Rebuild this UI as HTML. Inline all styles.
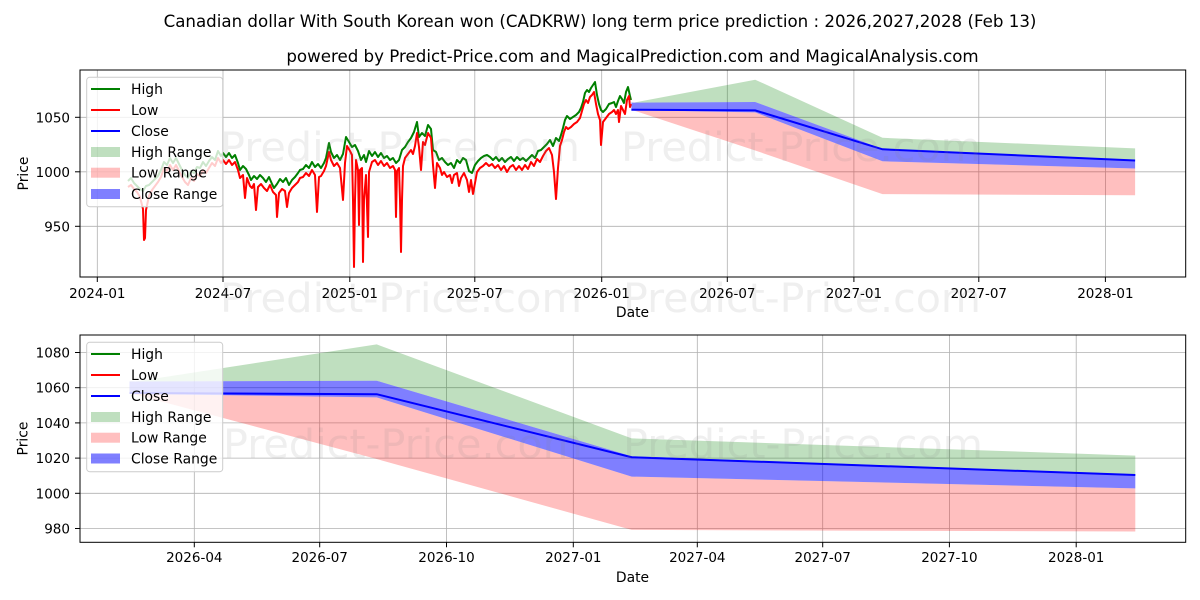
<!DOCTYPE html>
<html>
<head>
<meta charset="utf-8">
<style>
  html,body{margin:0;padding:0;background:#fff;}
  svg{display:block;font-family:"DejaVu Sans","Liberation Sans",sans-serif;}
</style>
</head>
<body>
<svg width="1200" height="600" viewBox="0 0 1200 600" xmlns="http://www.w3.org/2000/svg">
  <defs>
    <clipPath id="c1"><rect x="80" y="70" width="1105.7" height="207"/></clipPath>
    <clipPath id="c2"><rect x="80" y="335" width="1105.7" height="207.3"/></clipPath>
  </defs>
  <rect x="0" y="0" width="1200" height="600" fill="#fff"/>

  <!-- Titles -->
  <text x="600" y="27" font-size="16.67" text-anchor="middle" fill="#000">Canadian dollar With South Korean won (CADKRW) long term price prediction : 2026,2027,2028 (Feb 13)</text>
  <text x="632.5" y="62" font-size="16.67" text-anchor="middle" fill="#000">powered by Predict-Price.com and MagicalPrediction.com and MagicalAnalysis.com</text>

  <!-- ================= TOP CHART ================= -->
  <g stroke="#b0b0b0" stroke-width="0.8">
    <line x1="97.3" y1="70" x2="97.3" y2="277"/>
    <line x1="223" y1="70" x2="223" y2="277"/>
    <line x1="349.8" y1="70" x2="349.8" y2="277"/>
    <line x1="474.8" y1="70" x2="474.8" y2="277"/>
    <line x1="601.7" y1="70" x2="601.7" y2="277"/>
    <line x1="727.3" y1="70" x2="727.3" y2="277"/>
    <line x1="853.9" y1="70" x2="853.9" y2="277"/>
    <line x1="978.8" y1="70" x2="978.8" y2="277"/>
    <line x1="1105.4" y1="70" x2="1105.4" y2="277"/>
    <line x1="80" y1="117.3" x2="1185.7" y2="117.3"/>
    <line x1="80" y1="171.8" x2="1185.7" y2="171.8"/>
    <line x1="80" y1="226.3" x2="1185.7" y2="226.3"/>
  </g>

  <g clip-path="url(#c1)">
    <!-- forecast ranges -->
    <polygon fill="#008000" fill-opacity="0.25" points="631.4,103.1 755.2,79.7 882.5,137.8 1135.1,148.4 1135.1,160.0 882.5,148.9 755.2,102.0 631.4,102.6"/>
    <polygon fill="#ff0000" fill-opacity="0.25" points="631.4,110.2 755.2,112.4 882.5,161.3 1135.1,168.5 1135.1,195.3 882.5,194.1 755.2,150.5 631.4,109.7"/>
    <polygon fill="#0000ff" fill-opacity="0.5" points="631.4,102.6 755.2,102.0 882.5,148.9 1135.1,160.0 1135.1,168.5 882.5,161.3 755.2,112.4 631.4,110.2"/>

    <!-- historical high -->
    <polyline fill="none" stroke="#008000" stroke-width="2" stroke-linejoin="round" points="128,181 131,178 134,183 137,186 140,189 143,191 146,186 149,185 152,182 155,179 158,176 161,170 164,162 167,165 170,158 173,163 176,158 179,164 182,170 185,175 188,178 191,171 194,173 197,167 200,168 203,162 206,166 209,161 212,157 215,160 218,151 221,156 223,153 226,157 229,153 232,158 235,155 238,163 240,170 243,166 246,169 249,175 251,180 254,176 257,179 260,175 263,178 266,182 269,177 272,184 274,188 277,184 280,179 283,182 286,178 289,185 292,180 295,177 298,173 300,170 303,169 306,165 309,168 312,162 315,167 318,164 321,168 324,163 326,158 329,143 331,152 334,158 337,155 340,160 343,154 346,137 349,142 352,147 355,145 358,151 361,160 364,155 366,162 369,151 372,156 375,152 378,157 381,153 384,158 387,156 390,160 393,158 396,163 399,160 402,150 405,147 408,142 411,138 414,132 417,122 419,137 422,133 425,136 428,125 431,129 433,150 436,152 439,160 442,158 445,162 448,165 451,163 454,168 457,160 460,163 463,158 466,160 469,171 472,173 475,165 478,161 481,158 484,156 487,155 490,157 493,160 496,157 499,161 502,158 505,162 508,159 511,157 514,161 517,157 520,160 523,158 526,161 529,158 532,155 535,158 538,151 541,150 544,147 547,144 550,140 553,146 556,138 559,141 561,135 563,128 565,120 567,116 570,119 573,117 576,115 579,112 581,108 583,102 585,93 587,90 589,92 591,88 593,85 595,82 597,95 599,104 601,110 603,112 606,109 609,104 612,103 614,102 616,107 618,101 620,96 622,99 624,103 626,92 628,87 630,96 631,100"/>
    <!-- historical low -->
    <polyline fill="none" stroke="#ff0000" stroke-width="2" stroke-linejoin="round" points="128,187 131,185 134,189 137,192 140,197 142,205 143,209 144,240 145,238 146,210 149,196 152,190 155,186 158,182 161,177 164,168 167,171 170,165 173,170 176,165 179,171 182,177 185,182 188,185 191,178 194,181 197,174 200,176 203,170 206,173 209,168 212,163 215,166 218,158 221,163 223,160 226,164 229,160 232,165 235,162 238,170 240,178 243,175 245,198 247,178 250,186 252,188 254,184 256,210 258,187 261,184 264,188 267,191 270,185 273,192 276,195 277,217 279,193 282,189 285,191 287,207 289,193 292,188 295,185 298,182 300,178 303,177 306,173 309,176 312,170 315,175 317,212 319,177 321,176 324,171 326,166 329,152 331,160 334,166 337,163 340,168 343,200 345,163 347,146 350,151 352,155 353,200 354,267 355,200 356,160 358,170 359,225 360,170 362,168 363,262 364,200 366,175 368,237 369,172 372,162 375,160 378,165 381,161 384,166 387,163 390,168 393,166 395,170 396,217 397,171 399,168 400,200 401,252 402,200 403,166 405,158 408,154 411,150 413,154 415,146 417,133 419,147 421,170 423,142 425,145 428,133 431,138 433,165 435,188 437,163 440,168 442,175 444,172 447,177 450,175 452,183 454,175 457,173 459,186 461,178 464,173 467,180 469,192 471,180 473,194 475,183 477,172 480,168 483,166 486,163 489,166 492,164 495,168 498,165 501,170 504,166 507,172 510,167 513,165 516,170 519,166 522,170 525,165 528,169 531,162 534,166 537,159 540,162 543,156 546,151 549,148 552,155 554,172 556,199 558,168 560,146 562,140 564,132 566,127 568,129 571,127 574,124 577,122 580,118 582,111 584,104 586,100 588,103 590,97 592,95 594,92 596,104 598,114 600,120 601,145 603,122 606,118 609,114 612,112 614,110 616,114 618,110 619,122 621,106 623,110 625,114 627,100 629,96 630,107 631,104"/>
    <!-- close forecast -->
    <polyline fill="none" stroke="#0000ff" stroke-width="2" points="631.4,109.7 755.2,110.4 882.5,149.3 1135.1,160.5"/>
  </g>

  <!-- top axes frame & ticks -->
  <rect x="80" y="70" width="1105.7" height="207" fill="none" stroke="#000" stroke-width="1"/>
  <g stroke="#000" stroke-width="1">
    <line x1="97.3" y1="277" x2="97.3" y2="282"/>
    <line x1="223" y1="277" x2="223" y2="282"/>
    <line x1="349.8" y1="277" x2="349.8" y2="282"/>
    <line x1="474.8" y1="277" x2="474.8" y2="282"/>
    <line x1="601.7" y1="277" x2="601.7" y2="282"/>
    <line x1="727.3" y1="277" x2="727.3" y2="282"/>
    <line x1="853.9" y1="277" x2="853.9" y2="282"/>
    <line x1="978.8" y1="277" x2="978.8" y2="282"/>
    <line x1="1105.4" y1="277" x2="1105.4" y2="282"/>
    <line x1="75" y1="117.3" x2="80" y2="117.3"/>
    <line x1="75" y1="171.8" x2="80" y2="171.8"/>
    <line x1="75" y1="226.3" x2="80" y2="226.3"/>
  </g>
  <g font-size="13.5" fill="#000" text-anchor="middle">
    <text x="97.3" y="298">2024-01</text>
    <text x="223" y="298">2024-07</text>
    <text x="349.8" y="298">2025-01</text>
    <text x="474.8" y="298">2025-07</text>
    <text x="601.7" y="298">2026-01</text>
    <text x="727.3" y="298">2026-07</text>
    <text x="853.9" y="298">2027-01</text>
    <text x="978.8" y="298">2027-07</text>
    <text x="1105.4" y="298">2028-01</text>
  </g>
  <g font-size="13.5" fill="#000" text-anchor="end">
    <text x="70" y="122.3">1050</text>
    <text x="70" y="176.8">1000</text>
    <text x="70" y="231.3">950</text>
  </g>
  <text x="632.5" y="317" font-size="13.9" text-anchor="middle" fill="#000">Date</text>
  <text transform="translate(28,173.5) rotate(-90)" font-size="13.9" text-anchor="middle" fill="#000">Price</text>

  <!-- top legend -->
  <rect x="86.7" y="77.3" width="136" height="129.4" rx="3" fill="#fff" fill-opacity="0.8" stroke="#cccccc" stroke-width="1"/>
  <line x1="91" y1="89" x2="120" y2="89" stroke="#008000" stroke-width="2"/>
  <line x1="91" y1="110" x2="120" y2="110" stroke="#ff0000" stroke-width="2"/>
  <line x1="91" y1="131" x2="120" y2="131" stroke="#0000ff" stroke-width="2"/>
  <rect x="91" y="147" width="29" height="10" fill="#008000" fill-opacity="0.25"/>
  <rect x="91" y="167.7" width="29" height="10" fill="#ff0000" fill-opacity="0.25"/>
  <rect x="91" y="189" width="29" height="10" fill="#0000ff" fill-opacity="0.5"/>
  <g font-size="13.9" fill="#000">
    <text x="131" y="94">High</text>
    <text x="131" y="115">Low</text>
    <text x="131" y="136">Close</text>
    <text x="131" y="157">High Range</text>
    <text x="131" y="177.7">Low Range</text>
    <text x="131" y="199">Close Range</text>
  </g>

  <!-- ================= BOTTOM CHART ================= -->
  <g stroke="#b0b0b0" stroke-width="0.8">
    <line x1="194.3" y1="335" x2="194.3" y2="542.3"/>
    <line x1="319.7" y1="335" x2="319.7" y2="542.3"/>
    <line x1="446.5" y1="335" x2="446.5" y2="542.3"/>
    <line x1="573.3" y1="335" x2="573.3" y2="542.3"/>
    <line x1="697.3" y1="335" x2="697.3" y2="542.3"/>
    <line x1="822.7" y1="335" x2="822.7" y2="542.3"/>
    <line x1="949.4" y1="335" x2="949.4" y2="542.3"/>
    <line x1="1076.2" y1="335" x2="1076.2" y2="542.3"/>
    <line x1="80" y1="352.5" x2="1185.7" y2="352.5"/>
    <line x1="80" y1="387.7" x2="1185.7" y2="387.7"/>
    <line x1="80" y1="422.9" x2="1185.7" y2="422.9"/>
    <line x1="80" y1="458.1" x2="1185.7" y2="458.1"/>
    <line x1="80" y1="493.3" x2="1185.7" y2="493.3"/>
    <line x1="80" y1="528.5" x2="1185.7" y2="528.5"/>
  </g>

  <g clip-path="url(#c2)">
    <polygon fill="#008000" fill-opacity="0.25" points="129.5,382.4 376.7,344.4 631.7,438.4 1135.3,455.6 1135.3,474.3 631.7,456.3 376.7,380.7 129.5,381.5"/>
    <polygon fill="#ff0000" fill-opacity="0.25" points="129.5,393.9 376.7,397.4 631.7,476.6 1135.3,488.4 1135.3,531.5 631.7,529.9 376.7,459.0 129.5,393.0"/>
    <polygon fill="#0000ff" fill-opacity="0.5" points="129.5,381.5 376.7,380.7 631.7,456.3 1135.3,474.3 1135.3,488.4 631.7,476.6 376.7,397.4 129.5,393.9"/>
    <polyline fill="none" stroke="#0000ff" stroke-width="2" points="129.5,393.0 376.7,394.2 631.7,457.2 1135.3,475.0"/>
  </g>

  <rect x="80" y="335" width="1105.7" height="207.3" fill="none" stroke="#000" stroke-width="1"/>
  <g stroke="#000" stroke-width="1">
    <line x1="194.3" y1="542.3" x2="194.3" y2="547.3"/>
    <line x1="319.7" y1="542.3" x2="319.7" y2="547.3"/>
    <line x1="446.5" y1="542.3" x2="446.5" y2="547.3"/>
    <line x1="573.3" y1="542.3" x2="573.3" y2="547.3"/>
    <line x1="697.3" y1="542.3" x2="697.3" y2="547.3"/>
    <line x1="822.7" y1="542.3" x2="822.7" y2="547.3"/>
    <line x1="949.4" y1="542.3" x2="949.4" y2="547.3"/>
    <line x1="1076.2" y1="542.3" x2="1076.2" y2="547.3"/>
    <line x1="75" y1="352.5" x2="80" y2="352.5"/>
    <line x1="75" y1="387.7" x2="80" y2="387.7"/>
    <line x1="75" y1="422.9" x2="80" y2="422.9"/>
    <line x1="75" y1="458.1" x2="80" y2="458.1"/>
    <line x1="75" y1="493.3" x2="80" y2="493.3"/>
    <line x1="75" y1="528.5" x2="80" y2="528.5"/>
  </g>
  <g font-size="13.5" fill="#000" text-anchor="middle">
    <text x="194.3" y="562">2026-04</text>
    <text x="319.7" y="562">2026-07</text>
    <text x="446.5" y="562">2026-10</text>
    <text x="573.3" y="562">2027-01</text>
    <text x="697.3" y="562">2027-04</text>
    <text x="822.7" y="562">2027-07</text>
    <text x="949.4" y="562">2027-10</text>
    <text x="1076.2" y="562">2028-01</text>
  </g>
  <g font-size="13.5" fill="#000" text-anchor="end">
    <text x="70" y="357.5">1080</text>
    <text x="70" y="392.7">1060</text>
    <text x="70" y="427.9">1040</text>
    <text x="70" y="463.1">1020</text>
    <text x="70" y="498.3">1000</text>
    <text x="70" y="533.5">980</text>
  </g>
  <text x="632.5" y="582" font-size="13.9" text-anchor="middle" fill="#000">Date</text>
  <text transform="translate(27.5,438.5) rotate(-90)" font-size="13.9" text-anchor="middle" fill="#000">Price</text>

  <!-- bottom legend -->
  <rect x="86.7" y="342.3" width="136" height="129.4" rx="3" fill="#fff" fill-opacity="0.8" stroke="#cccccc" stroke-width="1"/>
  <line x1="91" y1="354" x2="120" y2="354" stroke="#008000" stroke-width="2"/>
  <line x1="91" y1="375" x2="120" y2="375" stroke="#ff0000" stroke-width="2"/>
  <line x1="91" y1="396" x2="120" y2="396" stroke="#0000ff" stroke-width="2"/>
  <rect x="91" y="412" width="29" height="10" fill="#008000" fill-opacity="0.25"/>
  <rect x="91" y="432.7" width="29" height="10" fill="#ff0000" fill-opacity="0.25"/>
  <rect x="91" y="453.5" width="29" height="10" fill="#0000ff" fill-opacity="0.5"/>
  <g font-size="13.9" fill="#000">
    <text x="131" y="359">High</text>
    <text x="131" y="380">Low</text>
    <text x="131" y="401">Close</text>
    <text x="131" y="422">High Range</text>
    <text x="131" y="442.7">Low Range</text>
    <text x="131" y="463.5">Close Range</text>
  </g>

  <!-- watermarks -->
  <g font-size="40" fill="#808080" fill-opacity="0.13">
    <text x="220" y="161" textLength="360" lengthAdjust="spacingAndGlyphs">Predict-Price.com</text>
    <text x="621" y="161" textLength="360" lengthAdjust="spacingAndGlyphs">Predict-Price.com</text>
    <text x="220" y="312" textLength="362" lengthAdjust="spacingAndGlyphs">Predict-Price.com</text>
    <text x="623" y="312" textLength="358" lengthAdjust="spacingAndGlyphs">Predict-Price.com</text>
    <text x="223" y="458" textLength="360" lengthAdjust="spacingAndGlyphs">Predict-Price.com</text>
    <text x="623" y="458" textLength="360" lengthAdjust="spacingAndGlyphs">Predict-Price.com</text>
  </g>
</svg>
</body>
</html>
